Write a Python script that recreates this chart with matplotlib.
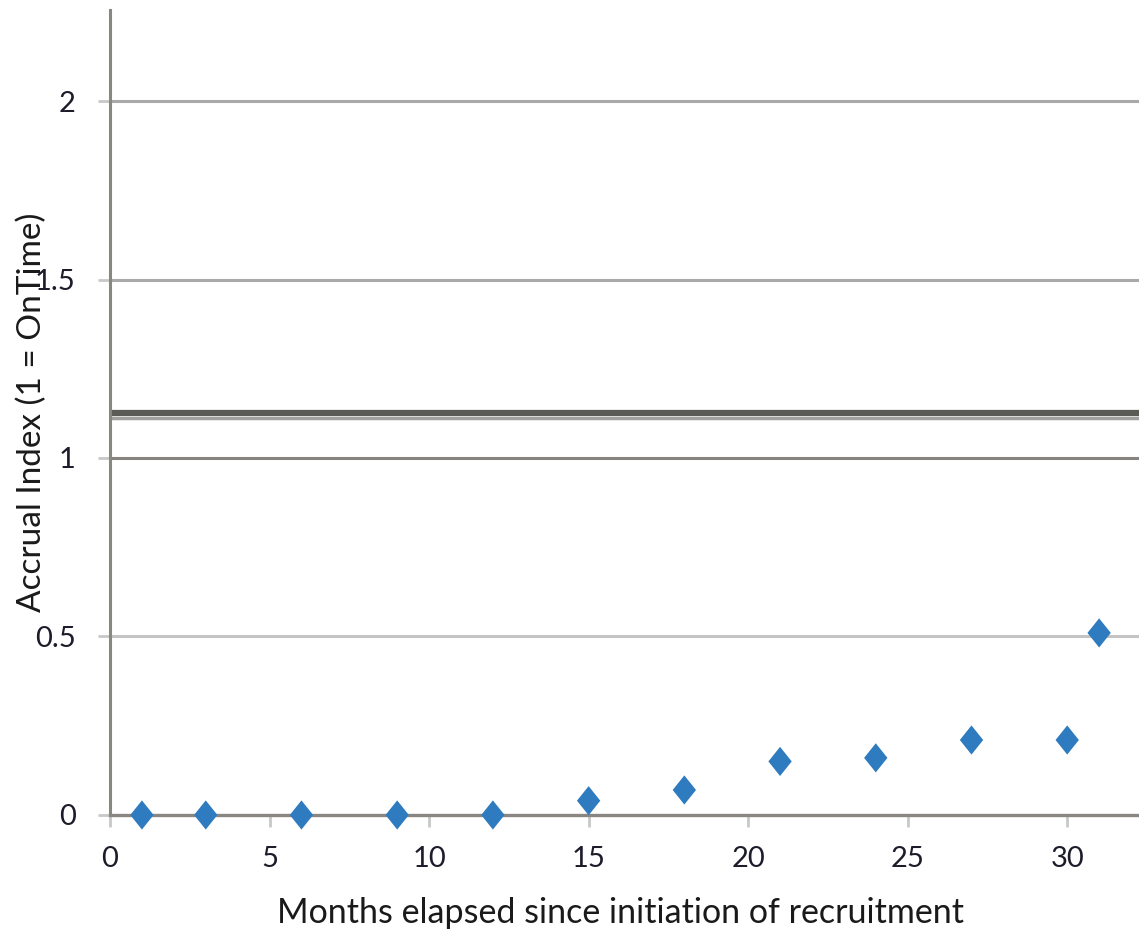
import matplotlib.pyplot as plt
from matplotlib.path import Path

# values
months = [1, 3, 6, 9, 12, 15, 18, 21, 24, 27, 30, 31]
accrual_index = [0, 0, 0, 0, 0, 0.04, 0.07, 0.15, 0.16, 0.21, 0.21, 0.51]
target_line = 1.12
y_ticks = [0, 0.5, 1, 1.5, 2]
y_tick_labels = ['0', '0.5', '1', '1.5', '2']
x_ticks = [0, 5, 10, 15, 20, 25, 30]

plt.rcParams['font.family'] = ['Lato', 'DejaVu Sans']

fig = plt.figure(figsize=(11.39, 9.33), dpi=100)
ax = fig.add_axes([0.0966, 0.1265, 0.9034, 0.8628])

ax.set_xlim(0, 32.25)
ax.set_ylim(0, 2.255)

# horizontal gridlines
grid_colors = {0.5: '#c4c4c4', 1: '#87847f', 1.5: '#a9a9a9', 2: '#a9a9a9'}
for yv, col in grid_colors.items():
    ax.axhline(yv, color=col, lw=2.2, zorder=1)

# thick reference line
ax.axhline(target_line + 0.006, color='#5b5b55', lw=4.5, zorder=2)
ax.axhline(target_line - 0.008, color='#a0a09c', lw=2.5, zorder=2)

# diamond markers, slightly taller than wide
diamond = Path([(0, 1), (0.8, 0), (0, -1), (-0.8, 0), (0, 1)],
               [Path.MOVETO, Path.LINETO, Path.LINETO, Path.LINETO, Path.CLOSEPOLY])
ax.scatter(months, accrual_index, marker=diamond, s=21 ** 2, color='#2e7bbf',
           edgecolors='none', zorder=5, clip_on=False)

for side in ['top', 'right']:
    ax.spines[side].set_visible(False)
ax.spines['left'].set_color('#8a8782')
ax.spines['left'].set_linewidth(2.2)
ax.spines['bottom'].set_color('#8a8782')
ax.spines['bottom'].set_linewidth(2.4)

ax.set_xticks(x_ticks)
ax.set_yticks(y_ticks)
ax.set_yticklabels(y_tick_labels)
ax.tick_params(axis='x', direction='out', length=8.6, width=2, color='#c8c8c8',
               labelsize=21, pad=14, labelcolor='#1c1c2a')
ax.tick_params(axis='y', direction='out', length=8.6, width=2, color='#c8c8c8',
               labelsize=21, pad=16, labelcolor='#1c1c2a')

ax.set_xlabel('Months elapsed since initiation of recruitment', fontsize=24.5,
              color='#1a1a1a')
ax.xaxis.set_label_coords(0.496, -0.102)
ax.set_ylabel('Accrual Index (1 = OnTime)', fontsize=24, color='#1a1a1a')
ax.yaxis.set_label_coords(-0.061, 0.50)

fig.savefig('out.png', dpi=100)
